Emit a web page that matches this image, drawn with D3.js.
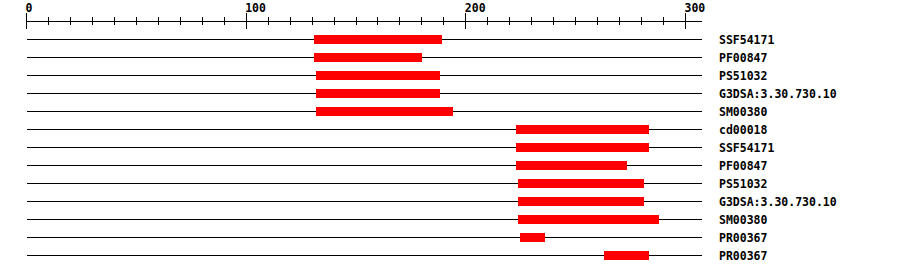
<!DOCTYPE html>
<html>
<head>
<meta charset="utf-8">
<script src="https://cdn.jsdelivr.net/npm/d3@7"></script>
<style>
  body { margin: 0; background: #fff; }
  svg { display: block; }
  text { font-family: "DejaVu Sans Mono", monospace; font-weight: bold; }
</style>
</head>
<body>
<svg id="chart" width="900" height="274"></svg>
<script>
// domain hits, one row each
var names = ["SSF54171", "PF00847", "PS51032", "G3DSA:3.30.730.10", "SM00380",
  "cd00018", "SSF54171", "PF00847", "PS51032", "G3DSA:3.30.730.10", "SM00380",
  "PR00367", "PR00367"];
var starts = [131, 131, 132, 132, 132, 223, 223, 223, 224, 224, 224, 225, 263];
var ends = [189, 180, 188, 188, 194, 283, 283, 273, 281, 281, 287.5, 236, 283];
var seqLength = 307;
var majorTicks = [0, 100, 200, 300];

var svg = d3.select("#chart");

var x = d3.scaleLinear().domain([0, 300]).range([26.5, 685.5]);
var y = d3.scalePoint().domain(d3.range(names.length)).range([39.5, 39.5 + 18 * (names.length - 1)]);

// ruler
var ruler = svg.append("g").attr("shape-rendering", "crispEdges").attr("stroke", "#000");
ruler.append("line")
  .attr("x1", x(0)).attr("x2", x(seqLength) + 1)
  .attr("y1", 21.5).attr("y2", 21.5);

var minor = d3.range(0, seqLength + 1, 10);
ruler.selectAll("line.tick")
  .data(minor)
  .enter().append("line")
  .attr("class", "tick")
  .attr("x1", d => x(d)).attr("x2", d => x(d))
  .attr("y1", d => majorTicks.indexOf(d) >= 0 ? 13 : 17)
  .attr("y2", d => majorTicks.indexOf(d) >= 0 ? 29 : 25);

svg.selectAll("text.tl")
  .data(majorTicks)
  .enter().append("text")
  .attr("class", "tl")
  .attr("x", d => x(d) - 1)
  .attr("y", 12)
  .style("font-size", "11.5px")
  .text(d => d);

// rows
var rows = svg.selectAll("g.row")
  .data(names)
  .enter().append("g")
  .attr("class", "row")
  .attr("shape-rendering", "crispEdges");

rows.append("line")
  .attr("x1", x(0)).attr("x2", x(seqLength) + 1)
  .attr("y1", (d, i) => y(i)).attr("y2", (d, i) => y(i))
  .attr("stroke", "#000");

rows.append("rect")
  .attr("x", (d, i) => Math.floor(x(starts[i])))
  .attr("width", (d, i) => Math.ceil(x(ends[i])) - Math.floor(x(starts[i])))
  .attr("y", (d, i) => y(i) - 4.5)
  .attr("height", 9)
  .attr("fill", "#ff0000");

rows.append("text")
  .attr("x", 719)
  .attr("y", (d, i) => y(i) + 4)
  .style("font-size", "11.5px")
  .text(d => d);
</script>
</body>
</html>
